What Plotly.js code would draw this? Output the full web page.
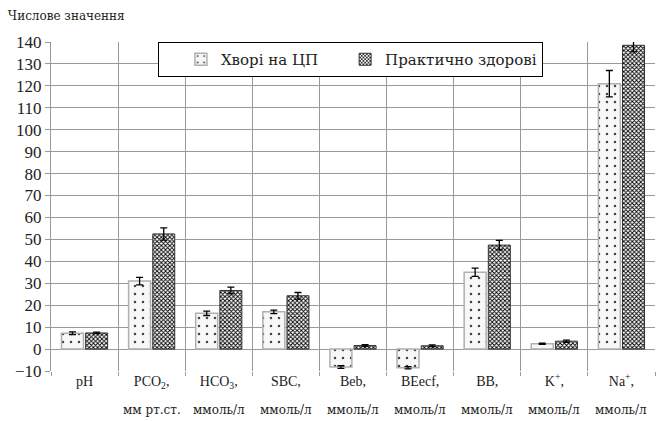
<!DOCTYPE html>
<html>
<head>
<meta charset="utf-8">
<script src="https://cdn.plot.ly/plotly-3.0.1.min.js"></script>
<style>html,body{margin:0;padding:0;background:#fff;}#chart{width:656px;height:421px;}</style>
</head>
<body>
<div id="chart"></div>
<script>
// Data
const categories = ['pH', 'PCO2', 'HCO3', 'SBC', 'Beb', 'BEecf', 'BB', 'K+', 'Na+'];
const tickLabels = ['pH', 'PCO<sub>2</sub>,', 'HCO<sub>3</sub>,', 'SBC,', 'Beb,', 'BEecf,', 'BB,', 'K<sup>+</sup>,', 'Na<sup>+</sup>,'];
const unitLabels = ['', 'мм рт.ст.', 'ммоль/л', 'ммоль/л', 'ммоль/л', 'ммоль/л', 'ммоль/л', 'ммоль/л', 'ммоль/л'];
const patients = [7.2, 31, 16.3, 17, -8.2, -8.5, 35, 2.4, 121];
const patientsErr = [0.6, 1.7, 1.0, 0.8, 0.6, 0.5, 1.9, 0.3, 6];
const healthy = [7.35, 52.5, 26.7, 24.3, 1.6, 1.5, 47.4, 3.6, 138.5];
const healthyErr = [0.35, 2.8, 1.5, 1.5, 0.4, 0.4, 2.2, 0.5, 3];
const seriesNames = ['Хворі на ЦП', 'Практично здорові'];

const latin = 'Liberation Serif';
const cyr = 'DejaVu Serif';

const traces = [
  {
    type: 'bar', name: seriesNames[0], x: categories, y: patients,
    marker: {
      color: '#f2f2f2',
      line: {color: '#b0b0b0', width: 1.5},
      pattern: {shape: '.', fgcolor: '#444', bgcolor: '#f7f7f7', size: 8, solidity: 0.08}
    },
    error_y: {type: 'data', array: patientsErr, visible: true, color: '#000', thickness: 1.3, width: 3.5}
  },
  {
    type: 'bar', name: seriesNames[1], x: categories, y: healthy,
    marker: {
      color: '#555',
      line: {color: '#333', width: 1},
      pattern: {shape: 'x', fgcolor: '#000', bgcolor: '#fff', size: 3, solidity: 0.5}
    },
    error_y: {type: 'data', array: healthyErr, visible: true, color: '#000', thickness: 1.3, width: 3.5}
  }
];

const annotations = [];
categories.forEach((c, i) => {
  if (!unitLabels[i]) return;
  annotations.push({
    x: c, xref: 'x', y: -0.12, yref: 'paper', yanchor: 'middle', xanchor: 'center',
    text: unitLabels[i], showarrow: false,
    font: {family: cyr, size: 12, color: '#222'}
  });
});

const layout = {
  width: 656, height: 421,
  margin: {l: 51, r: 1, t: 42, b: 50},
  paper_bgcolor: '#fff', plot_bgcolor: '#fff',
  font: {family: latin, color: '#222'},
  barmode: 'group', bargap: 0.28, bargroupgap: 0.09,
  title: {text: 'Числове значення', x: 0.012, xanchor: 'left', y: 0.962, yanchor: 'middle', yref: 'container',
          font: {family: cyr, size: 12, color: '#222'}},
  xaxis: {
    type: 'category', tickmode: 'array', tickvals: categories, ticktext: tickLabels,
    tickson: 'boundaries', showgrid: true, gridcolor: '#999', gridwidth: 1,
    ticks: 'outside', ticklen: 4, tickcolor: '#999',
    tickfont: {family: latin, size: 14, color: '#222'},
    showline: false, zeroline: false, fixedrange: true
  },
  yaxis: {
    range: [-10, 140], dtick: 10, tick0: 0,
    showgrid: true, gridcolor: '#999', gridwidth: 1,
    zeroline: true, zerolinecolor: '#999', zerolinewidth: 1,
    showline: true, linecolor: '#999', linewidth: 1,
    ticks: 'outside', ticklen: 5, tickcolor: '#999',
    tickfont: {family: latin, size: 17, color: '#222'}, fixedrange: true
  },
  legend: {
    orientation: 'h', x: 0.177, xanchor: 'left', y: 1, yanchor: 'top',
    bgcolor: '#fff', bordercolor: '#000', borderwidth: 1,
    indentation: 22, itemwidth: 30,
    font: {family: cyr, size: 15, color: '#222'}
  },
  annotations: annotations
};

Plotly.newPlot('chart', traces, layout, {displayModeBar: false, staticPlot: true});
</script>
</body>
</html>
